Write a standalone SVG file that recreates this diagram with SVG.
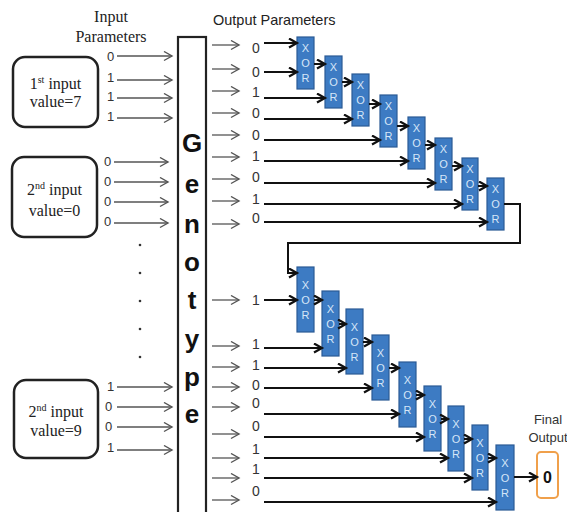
<svg xmlns="http://www.w3.org/2000/svg" width="567" height="512" viewBox="0 0 567 512">
<style>
.serif{font-family:"Liberation Serif","Times New Roman",serif;fill:#222}
.sans{font-family:"Liberation Sans",Arial,sans-serif}
.bit{font-family:"Liberation Sans",Arial,sans-serif;font-size:13px;fill:#333}
.obit{font-family:"Liberation Sans",Arial,sans-serif;font-size:14px;fill:#333}
.ibox{fill:#fff;stroke:#222;stroke-width:2.5}
.xor{fill:#3d7bc3;stroke:#2a5a95;stroke-width:1.2}
.xt{font-family:"Liberation Sans",Arial,sans-serif;font-size:11px;fill:#d6e6f8;text-anchor:middle}
.ga{stroke:#555;stroke-width:1.3;fill:none;marker-end:url(#ag)}
.ba{stroke:#111;stroke-width:2;fill:none;marker-end:url(#ab)}
.gl{font-family:"Liberation Sans",Arial,sans-serif;font-weight:bold;font-size:26px;fill:#111;text-anchor:middle}
</style>
<defs>
<marker id="ag" markerUnits="userSpaceOnUse" markerWidth="12" markerHeight="12" refX="9" refY="5" orient="auto">
<path d="M1,0.5 L9,5 L1,9.5" fill="none" stroke="#555" stroke-width="1.4"/>
</marker>
<marker id="ab" markerUnits="userSpaceOnUse" markerWidth="12" markerHeight="12" refX="9" refY="5" orient="auto">
<path d="M1,0.5 L9,5 L1,9.5" fill="none" stroke="#111" stroke-width="2.2"/>
</marker>
</defs>
<rect width="567" height="512" fill="#fff"/>

<g id="input-heading">
<text class="serif" x="111" y="22" font-size="16" text-anchor="middle">Input</text>
<text class="serif" x="111" y="42" font-size="16" text-anchor="middle">Parameters</text>
</g>
<g id="output-heading">
<text class="sans" x="213" y="25" font-size="14.5" fill="#222">Output Parameters</text>
</g>

<g id="input1">
<rect class="ibox" x="13" y="57" width="85" height="70" rx="12"/>
<text class="serif" x="55.5" y="89" font-size="16" text-anchor="middle">1<tspan font-size="10" dy="-6">st</tspan><tspan dy="6"> input</tspan></text>
<text class="serif" x="55.5" y="107" font-size="16" text-anchor="middle">value=7</text>
</g>
<g id="input2">
<rect class="ibox" x="12" y="157" width="85" height="80" rx="12"/>
<text class="serif" x="54.5" y="195" font-size="16" text-anchor="middle">2<tspan font-size="10" dy="-6">nd</tspan><tspan dy="6"> input</tspan></text>
<text class="serif" x="54.5" y="216" font-size="16" text-anchor="middle">value=0</text>
</g>
<g id="input3">
<rect class="ibox" x="14" y="380" width="84" height="78" rx="12"/>
<text class="serif" x="56" y="417" font-size="16" text-anchor="middle">2<tspan font-size="10" dy="-6">nd</tspan><tspan dy="6"> input</tspan></text>
<text class="serif" x="56" y="436" font-size="16" text-anchor="middle">value=9</text>
</g>

<g id="input-bits">
<text class="bit" x="107" y="61">0</text>
<text class="bit" x="107" y="82">1</text>
<text class="bit" x="107" y="101">1</text>
<text class="bit" x="107" y="121">1</text>
<text class="bit" x="104" y="166">0</text>
<text class="bit" x="104" y="186">0</text>
<text class="bit" x="104" y="206">0</text>
<text class="bit" x="104" y="226">0</text>
<text class="bit" x="107" y="391">1</text>
<text class="bit" x="105" y="411">0</text>
<text class="bit" x="105" y="431">0</text>
<text class="bit" x="107" y="452">1</text>
</g>
<g id="dots" fill="#333">
<circle cx="140" cy="245" r="1.3"/>
<circle cx="140" cy="273" r="1.3"/>
<circle cx="140" cy="301" r="1.3"/>
<circle cx="140" cy="329" r="1.3"/>
<circle cx="140" cy="357" r="1.3"/>
</g>

<g id="genotype">
<rect x="178" y="37" width="28" height="480" fill="#fff" stroke="#222" stroke-width="2.2"/>
<text class="gl" x="192" y="152">G</text>
<text class="gl" x="192" y="193">e</text>
<text class="gl" x="192" y="233">n</text>
<text class="gl" x="192" y="271">o</text>
<text class="gl" x="192" y="309">t</text>
<text class="gl" x="192" y="348">y</text>
<text class="gl" x="192" y="386">p</text>
<text class="gl" x="192" y="423">e</text>
</g>

<g id="output-bits">
<text class="obit" x="252" y="53">0</text>
<text class="obit" x="252" y="77">0</text>
<text class="obit" x="252" y="97">1</text>
<text class="obit" x="252" y="118">0</text>
<text class="obit" x="252" y="140">0</text>
<text class="obit" x="252" y="161">1</text>
<text class="obit" x="252" y="182">0</text>
<text class="obit" x="252" y="204">1</text>
<text class="obit" x="252" y="223">0</text>
<text class="obit" x="252" y="305">1</text>
<text class="obit" x="252" y="349">1</text>
<text class="obit" x="252" y="370">1</text>
<text class="obit" x="252" y="390">0</text>
<text class="obit" x="252" y="408">0</text>
<text class="obit" x="252" y="431">0</text>
<text class="obit" x="252" y="454">1</text>
<text class="obit" x="252" y="474">1</text>
<text class="obit" x="252" y="496">0</text>
</g>

<g id="xor1"><rect class="xor" x="297" y="37" width="17" height="52"/><text class="xt" x="305.5" y="52">X</text><text class="xt" x="305.5" y="67">O</text><text class="xt" x="305.5" y="82">R</text></g>
<g id="xor2"><rect class="xor" x="325" y="56" width="17" height="52"/><text class="xt" x="333.5" y="71">X</text><text class="xt" x="333.5" y="86">O</text><text class="xt" x="333.5" y="101">R</text></g>
<g id="xor3"><rect class="xor" x="352" y="74" width="17" height="52"/><text class="xt" x="360.5" y="89">X</text><text class="xt" x="360.5" y="104">O</text><text class="xt" x="360.5" y="119">R</text></g>
<g id="xor4"><rect class="xor" x="380" y="95" width="17" height="52"/><text class="xt" x="388.5" y="110">X</text><text class="xt" x="388.5" y="125">O</text><text class="xt" x="388.5" y="140">R</text></g>
<g id="xor5"><rect class="xor" x="408" y="117" width="17" height="52"/><text class="xt" x="416.5" y="132">X</text><text class="xt" x="416.5" y="147">O</text><text class="xt" x="416.5" y="162">R</text></g>
<g id="xor6"><rect class="xor" x="435" y="138" width="17" height="52"/><text class="xt" x="443.5" y="153">X</text><text class="xt" x="443.5" y="168">O</text><text class="xt" x="443.5" y="183">R</text></g>
<g id="xor7"><rect class="xor" x="462" y="158" width="16" height="52"/><text class="xt" x="470" y="173">X</text><text class="xt" x="470" y="188">O</text><text class="xt" x="470" y="203">R</text></g>
<g id="xor8"><rect class="xor" x="487" y="178" width="17" height="52"/><text class="xt" x="495.5" y="193">X</text><text class="xt" x="495.5" y="208">O</text><text class="xt" x="495.5" y="223">R</text></g>

<g id="xor9"><rect class="xor" x="297" y="267" width="17" height="65"/><text class="xt" x="305.5" y="289">X</text><text class="xt" x="305.5" y="304">O</text><text class="xt" x="305.5" y="319">R</text></g>
<g id="xor10"><rect class="xor" x="322" y="291" width="17" height="65"/><text class="xt" x="330.5" y="313">X</text><text class="xt" x="330.5" y="328">O</text><text class="xt" x="330.5" y="343">R</text></g>
<g id="xor11"><rect class="xor" x="346" y="309" width="17" height="65"/><text class="xt" x="354.5" y="331">X</text><text class="xt" x="354.5" y="346">O</text><text class="xt" x="354.5" y="361">R</text></g>
<g id="xor12"><rect class="xor" x="372" y="335" width="17" height="65"/><text class="xt" x="380.5" y="357">X</text><text class="xt" x="380.5" y="372">O</text><text class="xt" x="380.5" y="387">R</text></g>
<g id="xor13"><rect class="xor" x="399" y="362" width="17" height="65"/><text class="xt" x="407.5" y="384">X</text><text class="xt" x="407.5" y="399">O</text><text class="xt" x="407.5" y="414">R</text></g>
<g id="xor14"><rect class="xor" x="424" y="386" width="17" height="65"/><text class="xt" x="432.5" y="408">X</text><text class="xt" x="432.5" y="423">O</text><text class="xt" x="432.5" y="438">R</text></g>
<g id="xor15"><rect class="xor" x="448" y="406" width="16" height="65"/><text class="xt" x="456" y="428">X</text><text class="xt" x="456" y="443">O</text><text class="xt" x="456" y="458">R</text></g>
<g id="xor16"><rect class="xor" x="472" y="425" width="16" height="65"/><text class="xt" x="480" y="447">X</text><text class="xt" x="480" y="462">O</text><text class="xt" x="480" y="477">R</text></g>
<g id="xor17"><rect class="xor" x="496" y="445" width="18" height="65"/><text class="xt" x="505" y="467">X</text><text class="xt" x="505" y="482">O</text><text class="xt" x="505" y="497">R</text></g>

<g id="final-output">
<text class="sans" x="548" y="424" font-size="13" fill="#333" text-anchor="middle">Final</text>
<text class="sans" x="548" y="442" font-size="13" fill="#333" text-anchor="middle">Output</text>
<rect x="537" y="452" width="21" height="46" rx="4" fill="#fff" stroke="#f0a04b" stroke-width="2"/>
<text class="sans" x="547.5" y="483" font-size="16" font-weight="bold" fill="#111" text-anchor="middle">0</text>
</g>

<g id="connectors">
<line class="ga" x1="117" y1="56" x2="172" y2="56"/>
<line class="ga" x1="117" y1="80" x2="172" y2="80"/>
<line class="ga" x1="117" y1="98" x2="172" y2="98"/>
<line class="ga" x1="117" y1="118" x2="172" y2="118"/>
<line class="ga" x1="114" y1="162" x2="168" y2="162"/>
<line class="ga" x1="114" y1="182" x2="168" y2="182"/>
<line class="ga" x1="114" y1="202" x2="168" y2="202"/>
<line class="ga" x1="114" y1="223" x2="168" y2="223"/>
<line class="ga" x1="117" y1="387" x2="172" y2="387"/>
<line class="ga" x1="117" y1="407" x2="172" y2="407"/>
<line class="ga" x1="117" y1="427" x2="172" y2="427"/>
<line class="ga" x1="117" y1="450" x2="172" y2="450"/>
<line class="ga" x1="212" y1="45" x2="239" y2="45"/>
<line class="ga" x1="212" y1="69" x2="239" y2="69"/>
<line class="ga" x1="212" y1="91" x2="239" y2="91"/>
<line class="ga" x1="212" y1="113" x2="239" y2="113"/>
<line class="ga" x1="212" y1="135" x2="239" y2="135"/>
<line class="ga" x1="212" y1="157" x2="239" y2="157"/>
<line class="ga" x1="212" y1="179" x2="239" y2="179"/>
<line class="ga" x1="212" y1="201" x2="239" y2="201"/>
<line class="ga" x1="212" y1="224" x2="239" y2="224"/>
<line class="ga" x1="212" y1="300" x2="239" y2="300"/>
<line class="ga" x1="212" y1="346" x2="239" y2="346"/>
<line class="ga" x1="212" y1="367" x2="239" y2="367"/>
<line class="ga" x1="212" y1="387" x2="239" y2="387"/>
<line class="ga" x1="212" y1="407" x2="239" y2="407"/>
<line class="ga" x1="212" y1="434" x2="239" y2="434"/>
<line class="ga" x1="212" y1="458" x2="239" y2="458"/>
<line class="ga" x1="212" y1="478" x2="239" y2="478"/>
<line class="ga" x1="212" y1="500" x2="239" y2="500"/>
<line class="ba" x1="264" y1="43" x2="297" y2="43"/>
<line class="ba" x1="264" y1="72" x2="297" y2="72"/>
<line class="ba" x1="264" y1="98" x2="325" y2="98"/>
<line class="ba" x1="264" y1="119" x2="352" y2="119"/>
<line class="ba" x1="264" y1="140" x2="380" y2="140"/>
<line class="ba" x1="264" y1="161" x2="408" y2="161"/>
<line class="ba" x1="264" y1="183" x2="435" y2="183"/>
<line class="ba" x1="264" y1="204" x2="462" y2="204"/>
<line class="ba" x1="264" y1="222" x2="487" y2="222"/>
<line class="ba" x1="314" y1="64" x2="325" y2="64"/>
<line class="ba" x1="342" y1="82" x2="352" y2="82"/>
<line class="ba" x1="369" y1="104" x2="380" y2="104"/>
<line class="ba" x1="397" y1="126" x2="408" y2="126"/>
<line class="ba" x1="425" y1="145" x2="435" y2="145"/>
<line class="ba" x1="452" y1="166" x2="462" y2="166"/>
<line class="ba" x1="478" y1="186" x2="487" y2="186"/>
<path class="ba" d="M504,204 H520 V243 H288 V273 H297"/>
<line class="ba" x1="264" y1="300" x2="297" y2="300"/>
<line class="ba" x1="264" y1="348" x2="322" y2="348"/>
<line class="ba" x1="264" y1="368" x2="346" y2="368"/>
<line class="ba" x1="264" y1="388" x2="372" y2="388"/>
<line class="ba" x1="264" y1="414" x2="399" y2="414"/>
<line class="ba" x1="264" y1="437" x2="424" y2="437"/>
<line class="ba" x1="264" y1="458" x2="448" y2="458"/>
<line class="ba" x1="264" y1="478" x2="472" y2="478"/>
<line class="ba" x1="264" y1="502" x2="496" y2="502"/>
<line class="ba" x1="314" y1="300" x2="322" y2="300"/>
<line class="ba" x1="339" y1="324" x2="346" y2="324"/>
<line class="ba" x1="363" y1="342" x2="372" y2="342"/>
<line class="ba" x1="389" y1="368" x2="399" y2="368"/>
<line class="ba" x1="416" y1="395" x2="424" y2="395"/>
<line class="ba" x1="441" y1="419" x2="448" y2="419"/>
<line class="ba" x1="464" y1="439" x2="472" y2="439"/>
<line class="ba" x1="488" y1="458" x2="496" y2="458"/>
<line class="ba" x1="514" y1="477" x2="537" y2="477"/>
</g>
</svg>
